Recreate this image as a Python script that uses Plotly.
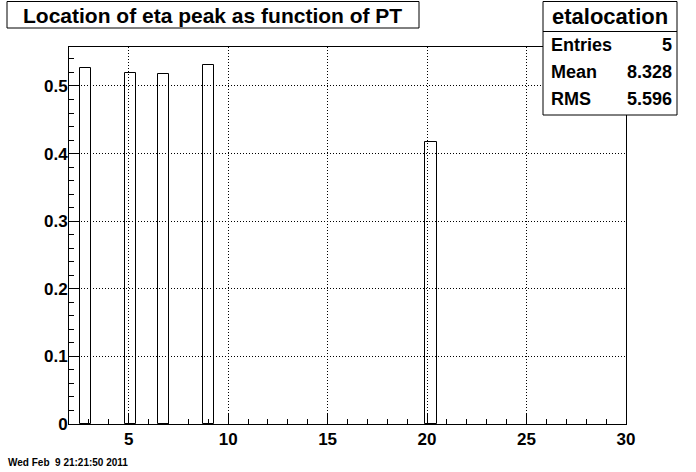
import plotly.graph_objects as go

# Histogram definition (ROOT TH1: 50 bins from 2 to 30)
nbins = 50
xmin = 2.0
xmax = 30.0
# filled bins: bin centers (PT) and contents (eta peak location)
pt_centers = [2.84, 5.08, 6.76, 9.00, 20.20]
eta_peak = [0.5262, 0.5192, 0.5178, 0.5311, 0.4171]

title_text = "Location of eta peak as function of PT"
stats_name = "etalocation"
stats_labels = ["Entries", "Mean", "RMS"]
stats_values = ["5", "8.328", "5.596"]
date_text = "Wed Feb\u00a0 9 21:21:50 2011"

bin_width = (xmax - xmin) / nbins
ymax = 1.05 * max(eta_peak)

W, H = 696, 472
L, R, T, B = 69, 70, 47, 48
PW = W - L - R
PH = H - T - B


def px(x):
    return (x - L) / PW


def py(y):
    return (H - B - y) / PH


FONT = "Liberation Sans, Arial, Helvetica, sans-serif"

fig = go.Figure()
fig.add_trace(go.Bar(
    x=pt_centers, y=eta_peak, width=[bin_width] * len(pt_centers),
    marker=dict(color="rgba(0,0,0,0)", line=dict(color="black", width=1)),
    showlegend=False, hoverinfo="x+y",
))

axis_common = dict(
    showline=True, mirror=True, linecolor="black", linewidth=1,
    ticks="inside", tickcolor="black", ticklen=10, tickwidth=1,
    showgrid=True, gridcolor="black", griddash="1px,2px", gridwidth=1,
    zeroline=False,
    tickfont=dict(family=FONT, size=17, color="black", weight="bold"),
)

fig.update_xaxes(
    range=[xmin, xmax], tick0=0, dtick=5,
    minor=dict(dtick=1, tick0=0, ticks="inside", ticklen=5, tickcolor="black", showgrid=False),
    **axis_common,
)
fig.update_yaxes(
    range=[0, ymax], tick0=0, dtick=0.1,
    minor=dict(dtick=0.02, tick0=0, ticks="inside", ticklen=5, tickcolor="black", showgrid=False),
    ticklabelstandoff=-3,
    **axis_common,
)

shapes = [
    # title box
    dict(type="rect", xref="paper", yref="paper", x0=px(7), x1=px(419), y0=py(28), y1=py(1.5),
         line=dict(color="black", width=1), fillcolor="white", layer="above"),
    # stats box
    dict(type="rect", xref="paper", yref="paper", x0=px(543), x1=px(677), y0=py(115), y1=py(1.5),
         line=dict(color="black", width=1), fillcolor="white", layer="above"),
    dict(type="line", xref="paper", yref="paper", x0=px(543), x1=px(677), y0=py(31.5), y1=py(31.5),
         line=dict(color="black", width=1), layer="above"),
]

annotations = [
    dict(text=title_text, xref="paper", yref="paper", x=px(21), y=py(15), xanchor="left", yanchor="middle",
         showarrow=False, font=dict(family=FONT, size=21, color="black", weight="bold")),
    dict(text=stats_name, xref="paper", yref="paper", x=px(610), y=py(17), xanchor="center", yanchor="middle",
         showarrow=False, font=dict(family=FONT, size=22, color="black", weight="bold")),
    dict(text=date_text, xref="paper", yref="paper", x=px(6), y=py(462), xanchor="left", yanchor="middle",
         showarrow=False, font=dict(family=FONT, size=10, color="black", weight="bold")),
]
row_y = [45, 72, 99]
for lab, val, yy in zip(stats_labels, stats_values, row_y):
    annotations.append(dict(text=lab, xref="paper", yref="paper", x=px(549), y=py(yy), xanchor="left",
                            yanchor="middle", showarrow=False,
                            font=dict(family=FONT, size=18, color="black", weight="bold")))
    annotations.append(dict(text=val, xref="paper", yref="paper", x=px(674), y=py(yy), xanchor="right",
                            yanchor="middle", showarrow=False,
                            font=dict(family=FONT, size=18, color="black", weight="bold")))

fig.update_layout(
    width=W, height=H, autosize=False,
    margin=dict(l=L, r=R, t=T, b=B, pad=0),
    paper_bgcolor="white", plot_bgcolor="white",
    shapes=shapes, annotations=annotations,
    showlegend=False, bargap=0,
)

fig.write_html("out.html", config={"displayModeBar": False},
               post_script="document.body.style.margin='0';document.body.style.padding='0';")
